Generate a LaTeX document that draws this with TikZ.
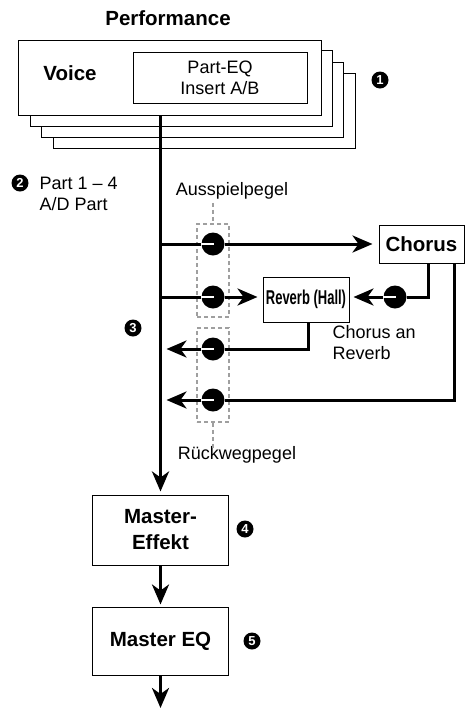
\documentclass[tikz,border=0pt]{standalone}
\usepackage{fontspec}
\setmainfont{Liberation Sans}
\usetikzlibrary{arrows.meta}
\begin{document}
\begin{tikzpicture}[x=1pt,y=-1pt,
  box/.style={draw, line width=1pt, fill=white, inner sep=0pt},
  reg/.style={font=\fontsize{18}{21}\selectfont},
  bld/.style={font=\fontsize{20.5}{26}\selectfont\bfseries},
  num/.style={circle, fill=black, text=white, inner sep=0pt, minimum size=17pt, font=\fontsize{13}{13}\selectfont\bfseries},
  knob/.style={circle, fill=black, inner sep=0pt, minimum size=23pt},
  sig/.style={line width=3pt},
  arr/.style={sig, -{Stealth[length=20pt,width=17pt,inset=6pt]}},
  dbox/.style={draw=gray!75, line width=1.5pt, dash pattern=on 4pt off 3pt, inner sep=0pt},
  dline/.style={draw=gray!75, line width=1.5pt, dash pattern=on 4pt off 3pt}]
\useasboundingbox (0,0) rectangle (466,713);

% stacked voice boxes
\node[box, minimum width=302pt, minimum height=75pt] (s4) at (204,110.5) {};
\node[box, minimum width=302pt, minimum height=75pt] (s3) at (192,99.5) {};
\node[box, minimum width=302pt, minimum height=76pt] (s2) at (181,88) {};
\node[box, minimum width=303pt, minimum height=75pt] (s1) at (169.5,77.5) {};
\node[box, minimum width=174pt, minimum height=51pt, reg, align=center] (peq) at (220,77.5) {Part-EQ\\Insert A/B};
\node[bld] (voice) at (70,73) {Voice};
\node[bld] (perf) at (168,18) {Performance};

% master section
\node[box, bld, minimum width=136pt, minimum height=70pt, align=center] (mfx) at (160.5,530) {Master-\\Effekt};
\node[box, bld, minimum width=136pt, minimum height=68pt] (meq) at (160.5,641) {Master EQ};
\coordinate (out) at (160.5,708);

% effect boxes
\node[box, bld, minimum width=85pt, minimum height=38pt] (cho) at (421.5,244) {Chorus};
\node[box, minimum width=86pt, minimum height=45pt, font=\fontsize{20}{22}\selectfont\bfseries] (rev) at (306,299.5) {\scalebox{0.65}[1]{Reverb (Hall)}};

% dashed level boxes
\node[dbox, minimum width=32pt, minimum height=93pt] (d1) at (213,270.5) {};
\node[dbox, minimum width=32pt, minimum height=94pt] (d2) at (213,375) {};

% knobs
\node[knob] (k1) at (213,244) {};
\node[knob] (k2) at (213,297) {};
\node[knob] (k3) at (213,349) {};
\node[knob] (k4) at (213,400) {};
\node[knob] (kc) at (395,297) {};

% labels
\node[reg] (aus) at (232,191) {Ausspielpegel};
\node[reg] (ruck) at (237,455) {Rückwegpegel};
\node[reg, anchor=west, align=left] (part) at (36,193.5) {Part 1 -- 4\\A/D Part};
\node[reg, anchor=west, align=left] (can) at (329,342.5) {Chorus an\\Reverb};

% numbers
\node[num] (n1) at (380,80) {1};
\node[num] (n2) at (20,183) {2};
\node[num] (n3) at (133,328) {3};
\node[num] (n4) at (245,529) {4};
\node[num] (n5) at (252,641) {5};

% dashed leader lines
\draw[dline] (aus.south -| d1.north) -- (d1.north);
\draw[dline] (d2.south) -- ([yshift=-6pt]ruck.north -| d2.south);

% main signal path
\draw[arr, line width=3.5pt, shorten >=3pt] (s1.south -| mfx.north) -- (mfx.north);
\draw[arr, shorten >=2pt] (mfx.south) -- (meq.north);
\draw[arr] (meq.south) -- (out);

% sends
\draw[sig] (mfx.north |- k1) -- (k1);
\draw[arr, shorten >=6pt] (k1) -- (cho.west |- k1);
\draw[sig] (mfx.north |- k2) -- (k2);
\draw[arr, shorten >=5pt] (k2) -- (rev.west |- k2);
\draw[sig] ([xshift=6.5pt]cho.south) |- (kc);
\draw[arr, shorten >=4pt] (kc) -- (rev.east |- kc);

% returns
\draw[sig] ([xshift=2pt]rev.south) |- (k3);
\draw[arr, shorten >=6pt] (k3) -- (mfx.north |- k3);
\draw[sig] ([xshift=32.5pt]cho.south) |- (k4);
\draw[arr, shorten >=6pt] (k4) -- (mfx.north |- k4);

% knob indicators
\foreach \k in {k1,k2,k3,k4,kc}
  \draw[white, line width=2.5pt] (\k.west) -- ([xshift=1pt]\k.center);
\end{tikzpicture}
\end{document}
